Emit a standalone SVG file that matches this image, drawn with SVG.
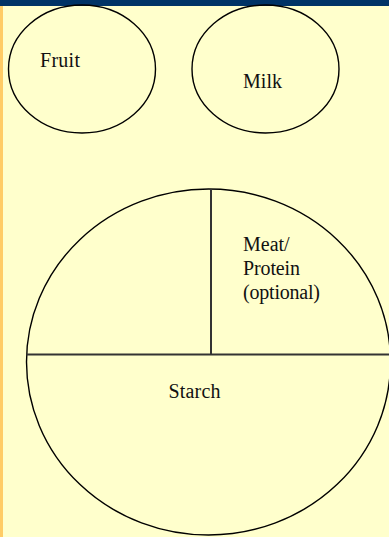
<svg xmlns="http://www.w3.org/2000/svg" width="389" height="537" viewBox="0 0 389 537">
<style>
.sh{fill:none;stroke:#000;stroke-width:1.4}
.dv{stroke:#333;stroke-width:2}
text{font-family:"Liberation Serif","Times New Roman",serif;font-size:20px;fill:#111}
</style>
<rect x="0" y="0" width="389" height="537" fill="#FFFFCC"/>
<rect x="0" y="0" width="3" height="537" fill="#FFCC66"/>
<rect x="0" y="0" width="389" height="6" fill="#003366"/>
<g id="fruit">
<ellipse class="sh" cx="82" cy="69" rx="73.5" ry="64"/>
<text x="40" y="67" textLength="40" lengthAdjust="spacing">Fruit</text>
</g>
<g id="milk">
<ellipse class="sh" cx="265.5" cy="69" rx="73.5" ry="64"/>
<text x="243" y="88" textLength="39" lengthAdjust="spacing">Milk</text>
</g>
<g id="plate">
<ellipse class="sh" cx="208.5" cy="362" rx="182" ry="173"/>
</g>
<g id="connectors">
<line class="dv" x1="26.5" y1="354.5" x2="390" y2="354.5"/>
<line class="dv" x1="211" y1="189" x2="211" y2="354.5"/>
</g>
<g id="meat">
<text x="243" y="251">Meat/</text>
<text x="243" y="275" textLength="57" lengthAdjust="spacing">Protein</text>
<text x="243" y="298.5" textLength="77" lengthAdjust="spacing">(optional)</text>
</g>
<g id="starch">
<text x="168.5" y="397.5" textLength="52" lengthAdjust="spacing">Starch</text>
</g>
</svg>
